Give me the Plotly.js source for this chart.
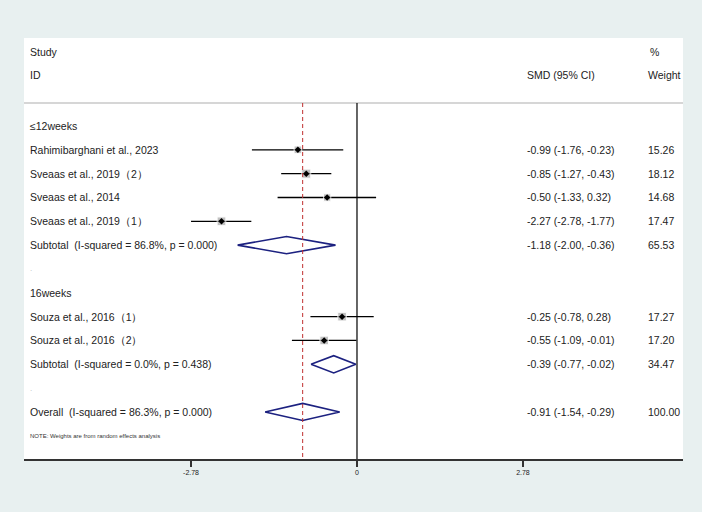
<!DOCTYPE html>
<html>
<head>
<meta charset="utf-8">
<script src="https://cdn.plot.ly/plotly-3.0.1.min.js"></script>
<style>html,body{margin:0;padding:0;background:#e8f0f0;}#chart{width:702px;height:512px;}</style>
</head>
<body>
<div id="chart"></div>
<script>
// ---- data ----
const studies = ["Rahimibarghani et al., 2023", "Sveaas et al., 2019（2）", "Sveaas et al., 2014", "Sveaas et al., 2019（1）", "Souza et al., 2016（1）", "Souza et al., 2016（2）"];
const studyRows = [2, 3, 4, 5, 9, 10];
const smd = [-0.99, -0.85, -0.50, -2.27, -0.25, -0.55];
const ciLow = [-1.76, -1.27, -1.33, -2.78, -0.78, -1.09];
const ciHigh = [-0.23, -0.43, 0.32, -1.77, 0.28, -0.01];
const weights = [15.26, 18.12, 14.68, 17.47, 17.27, 17.20];

const groupLabels = ["≤12weeks", "16weeks"];
const groupRows = [1, 8];

const pooledLabels = ["Subtotal  (I-squared = 86.8%, p = 0.000)", "Subtotal  (I-squared = 0.0%, p = 0.438)", "Overall  (I-squared = 86.3%, p = 0.000)"];
const pooledRows = [6, 11, 13];
const pooledSmd = [-1.18, -0.39, -0.91];
const pooledLow = [-2.00, -0.77, -1.54];
const pooledHigh = [-0.36, -0.02, -0.29];
const pooledWeights = [65.53, 34.47, 100.00];

const spacerRows = [7, 12];
const noteText = "NOTE: Weights are from random effects analysis";
const noteRow = 14;

const tickVals = [-2.78, 0, 2.78];
const tickText = ["-2.78", "0", "2.78"];

// ---- build ----
const fmt = v => v.toFixed(2);
const ciStr = (e, l, h) => fmt(e) + " (" + fmt(l) + ", " + fmt(h) + ")";

const traces = [];
// CI lines
studies.forEach((s, i) => {
  traces.push({x: [ciLow[i], ciHigh[i]], y: [studyRows[i], studyRows[i]], mode: 'lines',
    line: {color: '#000', width: 1.3}, hoverinfo: 'skip', showlegend: false});
});
// weight boxes
traces.push({x: smd, y: studyRows, mode: 'markers', showlegend: false,
  marker: {symbol: 'square', color: '#a8a8a8', size: weights.map(w => w * 0.5)}});
// point estimates
traces.push({x: smd, y: studyRows, mode: 'markers', showlegend: false,
  marker: {symbol: 'diamond', color: '#000', size: 5}});
// diamonds
const h = 0.36;
pooledSmd.forEach((e, i) => {
  const r = pooledRows[i];
  traces.push({x: [pooledLow[i], e, pooledHigh[i], e, pooledLow[i]], y: [r, r - h, r, r + h, r],
    mode: 'lines', line: {color: '#1c2180', width: 1.6}, showlegend: false, hoverinfo: 'skip'});
});

const colStudy = 0.0065, colCI = 0.760, colW = 0.944;
const font = {family: 'Liberation Sans, Arial, sans-serif', size: 10.5, color: '#222'};
const ann = [];
const addT = (x, y, text, f) => ann.push({xref: 'paper', yref: 'y', x: x, y: y, text: text, showarrow: false,
  xanchor: 'left', yanchor: 'middle', font: f || font});

addT(colStudy, -2.1, "Study");
addT(colStudy, -1.14, "ID");
addT(colCI, -1.14, "SMD (95% CI)");
addT(colW + 0.003, -2.1, "%");
addT(colW, -1.14, "Weight");
groupLabels.forEach((g, i) => addT(colStudy, groupRows[i], g));
studies.forEach((s, i) => {
  addT(colStudy, studyRows[i], s);
  addT(colCI, studyRows[i], ciStr(smd[i], ciLow[i], ciHigh[i]));
  addT(colW, studyRows[i], fmt(weights[i]));
});
pooledLabels.forEach((s, i) => {
  addT(colStudy, pooledRows[i], s);
  addT(colCI, pooledRows[i], ciStr(pooledSmd[i], pooledLow[i], pooledHigh[i]));
  addT(colW, pooledRows[i], fmt(pooledWeights[i]));
});
spacerRows.forEach(r => addT(colStudy, r, ".", {family: font.family, size: 8, color: '#bbb'}));
addT(colStudy, noteRow, noteText, {family: font.family, size: 6, color: '#333'});

const overall = pooledSmd[2];
const shapes = [
  {type: 'line', xref: 'paper', yref: 'y', x0: 0, x1: 1, y0: 0.035, y1: 0.035, line: {color: '#c8c8c8', width: 1.5}},
  {type: 'line', xref: 'x', yref: 'y', x0: 0, x1: 0, y0: 0.035, y1: 14.974, line: {color: '#000', width: 1.2}},
  {type: 'line', xref: 'x', yref: 'y', x0: overall, x1: overall, y0: 0.035, y1: 14.974, line: {color: '#c03030', width: 1, dash: '4px,3px'}}
];

const layout = {
  width: 702, height: 512,
  margin: {l: 24, r: 19, t: 38, b: 53},
  paper_bgcolor: '#e8f0f0', plot_bgcolor: '#ffffff',
  showlegend: false,
  xaxis: {range: [-5.578, 5.461], showgrid: false, zeroline: false, showline: true, linecolor: '#333', linewidth: 1.5,
    tickmode: 'array', tickvals: tickVals, ticktext: tickText, ticks: 'outside', ticklen: 6, tickcolor: '#333', tickwidth: 1.5,
    tickfont: {family: font.family, size: 7, color: '#222'}, fixedrange: true},
  yaxis: {range: [14.974, -2.693], showgrid: false, zeroline: false, showline: false, showticklabels: false, ticks: '', fixedrange: true},
  shapes: shapes,
  annotations: ann
};

Plotly.newPlot('chart', traces, layout, {displayModeBar: false, staticPlot: true});
</script>
</body>
</html>
